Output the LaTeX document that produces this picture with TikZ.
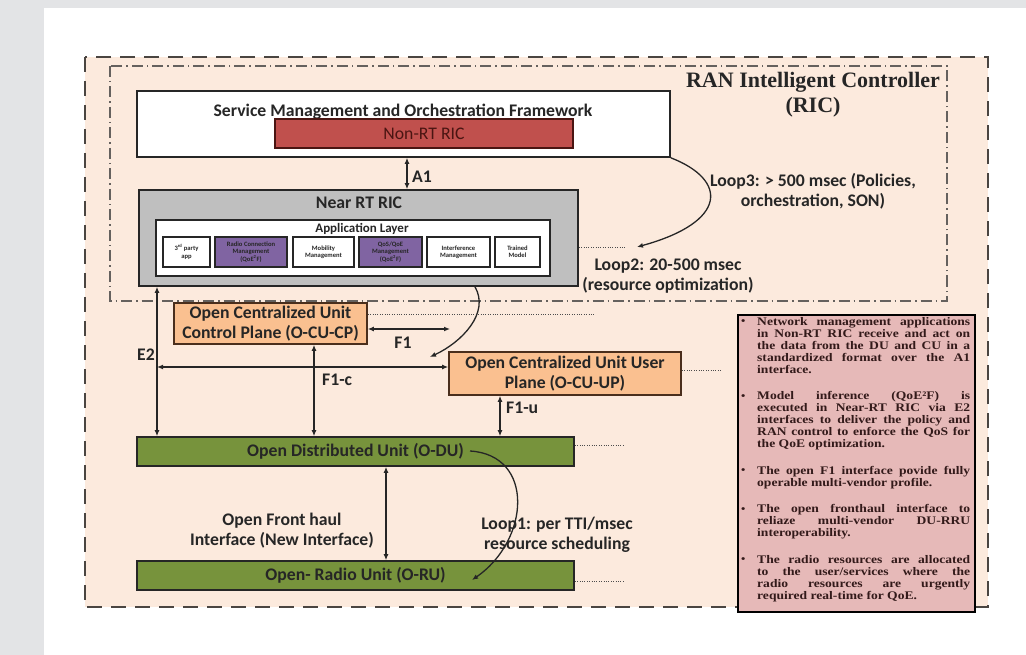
\documentclass[tikz,border=0pt]{standalone}
\usepackage{fontspec}
\setmainfont{Carlito}
\newfontfamily\notesfont{Liberation Serif}[FakeStretch=1.17]
\newfontfamily\ricfont{Liberation Serif}
\usetikzlibrary{arrows.meta}

\definecolor{pagegray}{HTML}{E3E4E6}
\definecolor{peach}{HTML}{FCEADD}
\definecolor{framegray}{HTML}{4A4541}
\definecolor{nonrtred}{HTML}{C0504D}
\definecolor{nonrtink}{HTML}{4A1512}
\definecolor{nrtgray}{HTML}{BFBFBF}
\definecolor{apppurple}{HTML}{8064A2}
\definecolor{cuorange}{HTML}{FAC090}
\definecolor{cuedge}{HTML}{4A2E1C}
\definecolor{dugreen}{HTML}{77933C}
\definecolor{notepink}{HTML}{E6B9B8}
\definecolor{noteink}{HTML}{331A1A}
\definecolor{inkdark}{HTML}{262626}

\newcommand\notepar[1]{\noindent\hangindent=16pt\hangafter=1\makebox[16pt][l]{\raisebox{.05ex}{\scalebox{.9}{•}}}#1\par}

\tikzset{
  lbl/.style={font=\fontsize{17.7}{20}\selectfont\bfseries, text=inkdark, inner sep=0, align=center},
  tinylbl/.style={font=\fontsize{6.6}{7.4}\selectfont\bfseries, text=inkdark, inner sep=0, align=center},
  blockbox/.style={draw=inkdark, line width=1.6pt, inner sep=0, minimum width=#1},
  appbox/.style={draw=inkdark, line width=1.4pt, fill=white, inner sep=0, minimum height=30pt, minimum width=#1},
  qoebox/.style={appbox=#1, fill=apppurple},
  cubox/.style={draw=cuedge, line width=1.6pt, fill=cuorange, inner sep=0, align=center,
    font=\fontsize{17.7}{20}\selectfont\bfseries, text=inkdark},
  dubox/.style={draw=inkdark, line width=1.6pt, fill=dugreen, inner sep=0, minimum width=437pt, minimum height=29pt,
    font=\fontsize{17.7}{20}\selectfont\bfseries, text=inkdark},
  tip/.tip={Latex[length=6pt,width=5pt]},
  connarrow/.style={draw=inkdark, line width=1.3pt, tip-tip},
  looparrow/.style={draw=inkdark, line width=1.3pt, -tip},
  leadline/.style={draw=gray!60!black, line width=0.9pt, dash pattern=on 1pt off 1.4pt},
  outerframe/.style={draw=framegray, fill=peach, line width=2.4pt, dash pattern=on 15pt off 9pt},
  ricframe/.style={draw=framegray!85, line width=1.4pt, dash pattern=on 11pt off 4pt on 1.5pt off 4pt},
}

\begin{document}
\begin{tikzpicture}[x=1pt,y=-1pt]
\useasboundingbox (0,0) rectangle (1026,655);
\fill[pagegray] (0,0) rectangle (1026,655);
\fill[white] (44,8) rectangle (1026,655);

% RAN region and RIC region
\draw[outerframe] (85,57) rectangle (988,607);
\draw[ricframe] (110,66) rectangle (947,301);

\node[lbl, font=\ricfont\fontsize{22}{25}\selectfont\bfseries] (rictitle) at (813,95) {RAN Intelligent Controller\\(RIC)};

% Service management and orchestration
\node[blockbox=533pt, minimum height=66pt, fill=white] (smo) at (403.5,124) {};
\node[lbl] (smotitle) at (403,112) {Service Management and Orchestration Framework};
\node[draw=nonrtink, line width=1.4pt, fill=nonrtred, inner sep=0, minimum width=298pt, minimum height=29pt,
      font=\fontsize{17.7}{20}\selectfont, text=nonrtink] (nonrt) at (424,133.5) {Non-RT RIC};

% Near RT RIC with its application layer
\node[blockbox=439pt, minimum height=96pt, fill=nrtgray] (nrt) at (358.5,238) {};
\node[lbl] (nrttitle) at (359,203) {Near RT RIC};
\node[blockbox=394pt, minimum height=56pt, fill=white, line width=1.5pt] (app) at (353,248) {};
\node[lbl, font=\fontsize{13}{15}\selectfont\bfseries] (apptitle) at (362,229) {Application Layer};
\node[appbox=47pt] (xapp) at (186.5,252) {};
\node[tinylbl] at (xapp) {3\textsuperscript{rd} party\\app};
\node[qoebox=72pt] (rcm) at (251,252) {};
\node[tinylbl] at (rcm) {Radio Connection\\Management\\(QoE\textsuperscript{2}F)};
\node[appbox=61pt] (mob) at (323.5,252) {};
\node[tinylbl] at (mob) {Mobility\\Management};
\node[qoebox=63pt] (qos) at (390.5,252) {};
\node[tinylbl] at (qos) {QoS/QoE\\Management\\(QoE\textsuperscript{2}F)};
\node[appbox=63pt] (intf) at (458.5,252) {};
\node[tinylbl] at (intf) {Interference\\Management};
\node[appbox=45pt] (model) at (517.5,252) {};
\node[tinylbl] at (model) {Trained\\Model};

% A1 between the two RICs
\coordinate (a1x) at (407,0);
\draw[connarrow] (smo.south -| a1x) -- (nrt.north -| a1x);
\node[lbl, anchor=west] (a1lbl) at (412,177) {A1};

% Loop 3 and loop 2 timing
\coordinate (l2mark) at (637,247);
\draw[leadline] (nrt.east |- l2mark) -- (625,247);
\draw[looparrow] (smo.south east) .. controls (728,180) and (728,222) .. (l2mark);
\node[lbl] (loop3) at (813,191) {Loop3: > 500 msec (Policies,\\orchestration, SON)};
\node[lbl] (loop2) at (668,276.5) {Loop2: 20-500 msec\\(resource optimization)};

% Centralized units
\node[cubox, minimum width=193pt, minimum height=41pt] (cucp) at (270.5,323.5) {Open Centralized Unit\\Control Plane (O-CU-CP)};
\node[cubox, minimum width=232pt, minimum height=43pt] (cuup) at (565,373.5) {Open Centralized Unit User\\Plane (O-CU-UP)};
\draw[leadline] (cucp.east |- 0,314) -- (595,314);
\draw[leadline] (cuup.east |- 0,370) -- (721,370);

% Distributed and radio units
\node[dubox] (odu) at (355.5,451.5) {Open Distributed Unit (O-DU)};
\node[dubox] (oru) at (355.5,575.5) {Open- Radio Unit (O-RU)};
\draw[leadline] (odu.east |- 0,445) -- (625,445);
\draw[leadline] (oru.east |- 0,581) -- (625,581);

% Interfaces
\coordinate (e2x) at (157,0);
\coordinate (hy) at (0,367);
\coordinate (f1end) at (450,329);
\coordinate (f1cx) at (314,0);
\coordinate (f1ux) at (500,0);
\coordinate (fhx) at (386,0);
\draw[connarrow] (nrt.south -| e2x) -- (odu.north -| e2x);
\node[lbl, anchor=east] (e2lbl) at (155,355) {E2};
\draw[connarrow] (e2x |- hy) -- (cuup.west |- hy);
\draw[connarrow] (cucp.east |- f1end) -- (f1end);
\node[lbl] (f1lbl) at (403,343) {F1};
\draw[connarrow] (cucp.south -| f1cx) -- (odu.north -| f1cx);
\node[lbl, anchor=west] (f1clbl) at (322,380) {F1-c};
\draw[connarrow] (cuup.south -| f1ux) -- (odu.north -| f1ux);
\node[lbl, anchor=west] (f1ulbl) at (506,408) {F1-u};
\draw[connarrow] (odu.south -| fhx) -- (oru.north -| fhx);
\node[lbl] (fhlbl) at (282,531) {Open Front haul\\Interface (New Interface)};

% Loop 2 from the near RT RIC, loop 1 from the DU to the RU
\coordinate (l2start) at (475,0);
\coordinate (l2end) at (430,357);
\draw[looparrow] (nrt.south -| l2start) .. controls (490,313) and (462,342) .. (l2end);
\coordinate (l1start) at (470,451);
\coordinate (l1end) at (472,580);
\draw[looparrow] (l1start) .. controls (535,455) and (530,540) .. (l1end);
\node[lbl] (loop1) at (557,535) {Loop1: per TTI/msec\\resource scheduling};

% Notes panel
\node[draw=black, line width=1.8pt, fill=notepink, minimum width=237pt, minimum height=297pt, inner sep=0] (notes) at (856.5,463.5) {};
\node[anchor=north west, text width=229pt, inner sep=0, align=justify, text=noteink,
      font=\notesfont\fontsize{11.6}{12}\selectfont\bfseries] (notestext) at (741,317) {%
  \tolerance=10000\hbadness=10000\hyphenpenalty=10000\exhyphenpenalty=10000
  \setlength{\parskip}{14.5pt}%
  \notepar{Network management applications\linebreak in Non-RT RIC receive and act on\linebreak the data from the DU and CU in a\linebreak standardized format over the A1\linebreak interface.}
  \notepar{Model inference (QoE²F) is\linebreak executed in Near-RT RIC via E2\linebreak interfaces to deliver the policy and\linebreak RAN control to enforce the QoS for\linebreak the QoE optimization.}
  \notepar{The open F1 interface povide fully\linebreak operable multi-vendor profile.}
  \notepar{The open fronthaul interface to\linebreak reliaze multi-vendor DU-RRU\linebreak interoperability.}
  \notepar{The radio resources are allocated\linebreak to the user/services where the\linebreak radio resources are urgently\linebreak required real-time for QoE.}
};
\end{tikzpicture}
\end{document}
